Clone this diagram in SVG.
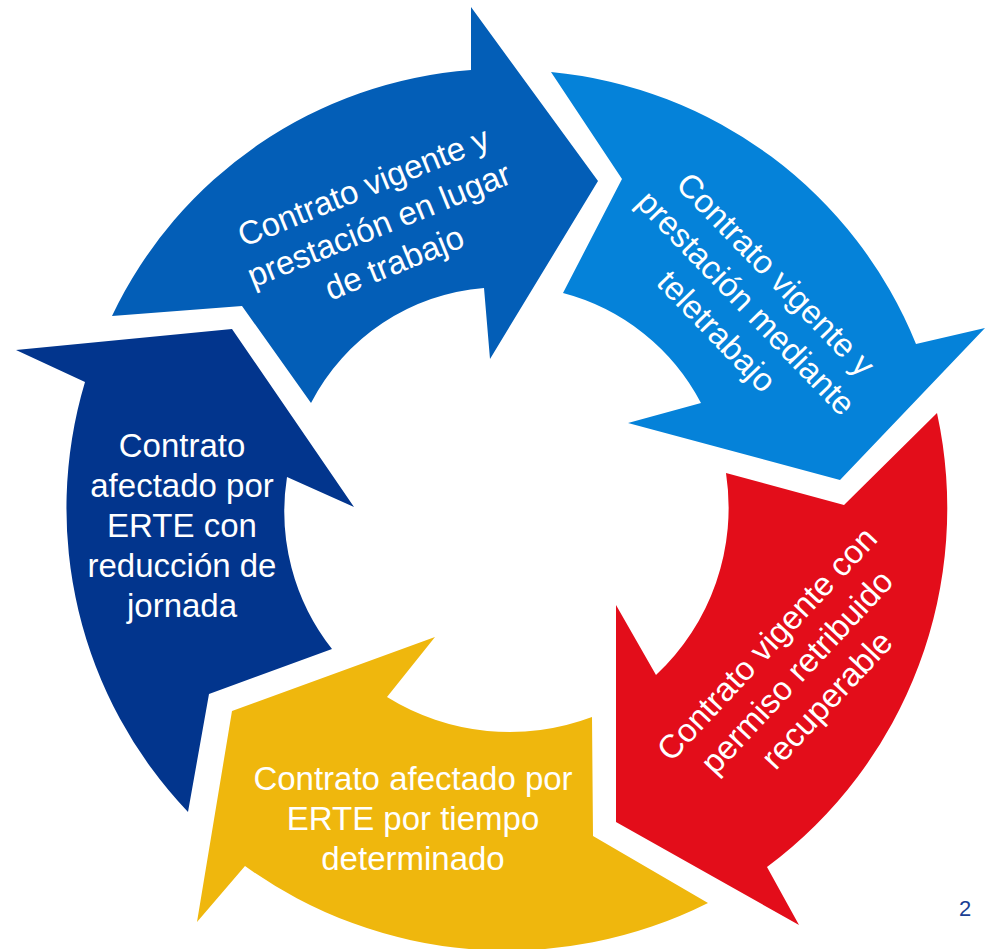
<svg xmlns="http://www.w3.org/2000/svg" width="989" height="949" viewBox="0 0 989 949">
<style>
.lbl{font-family:"Liberation Sans",Arial,sans-serif;font-size:33px;fill:#ffffff;text-anchor:middle}
.pg{font-family:"Liberation Sans",Arial,sans-serif;font-size:22px;fill:#1B3F94;text-anchor:middle}
</style>
<rect width="989" height="949" fill="#ffffff"/>
<g id="connectors"></g>
<g id="node-lugar">
<path fill="#035EB7" d="M112,316 A433,433 0 0,1 471,70 L471,7 L598,181 L490,359 L484,288 A214,214 0 0,0 311,403 L242,306 Z"/>
<g transform="translate(379,225) rotate(-22)">
<text class="lbl" x="0" y="-30">Contrato vigente y</text>
<text class="lbl" x="0" y="11">prestación en lugar</text>
<text class="lbl" x="0" y="52">de trabajo</text>
</g>
</g>
<g id="node-teletrabajo">
<path fill="#0582D9" d="M551,72 A438,438 0 0,1 916,344 L985,328 L840,480 L628,423 L701,403 A218,218 0 0,0 563,293 L622,179 Z"/>
<g transform="translate(746,303) rotate(46)">
<text class="lbl" x="0" y="-30">Contrato vigente y</text>
<text class="lbl" x="0" y="11">prestación mediante</text>
<text class="lbl" x="0" y="52">teletrabajo</text>
</g>
</g>
<g id="node-permiso">
<path fill="#E30D1A" d="M937,413 A447,447 0 0,1 767,867 L799,925 L616,822 L616,605 L656,675 A229,229 0 0,0 726,473 L844,505 Z"/>
<g transform="translate(797,672) rotate(-47)">
<text class="lbl" x="0" y="-30">Contrato vigente con</text>
<text class="lbl" x="0" y="11">permiso retribuido</text>
<text class="lbl" x="0" y="52">recuperable</text>
</g>
</g>
<g id="node-erte-tiempo">
<path fill="#EFB70D" d="M708,903 L593,836 L592,717 A233,233 0 0,1 387,697 L435,637 L232,711 L197,922 L245,866 A448,448 0 0,0 708,903 Z"/>
<text class="lbl" x="413" y="790">Contrato afectado por</text>
<text class="lbl" x="413" y="830">ERTE por tiempo</text>
<text class="lbl" x="413" y="870">determinado</text>
</g>
<g id="node-erte-reduccion">
<path fill="#02358D" d="M188,812 L209,694 L332,649 A222,222 0 0,1 287,477 L354,507 L232,329 L16,350 L85,382 A440,440 0 0,0 188,812 Z"/>
<text class="lbl" x="182" y="457">Contrato</text>
<text class="lbl" x="182" y="497">afectado por</text>
<text class="lbl" x="182" y="537">ERTE con</text>
<text class="lbl" x="182" y="577">reducción de</text>
<text class="lbl" x="182" y="617">jornada</text>
</g>
<text class="pg" x="965" y="916">2</text>
</svg>
